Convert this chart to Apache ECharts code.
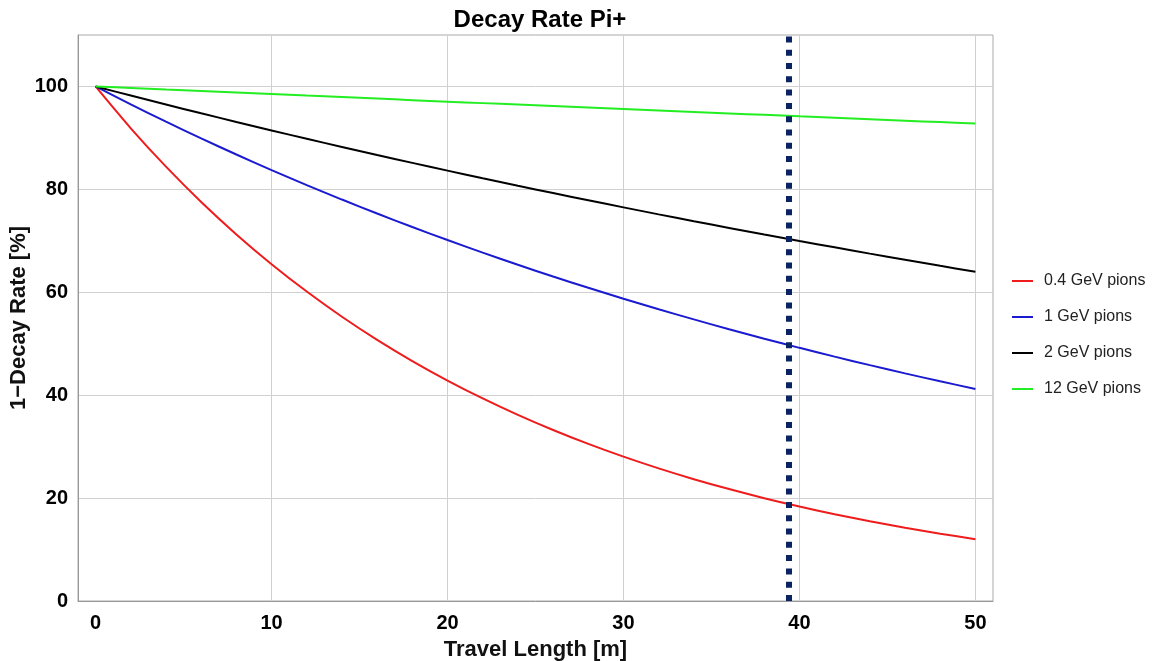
<!DOCTYPE html>
<html><head><meta charset="utf-8">
<script src="https://cdn.jsdelivr.net/npm/echarts@6/dist/echarts.min.js"></script>
<style>html,body{margin:0;padding:0;background:#fff}#c{width:1155px;height:661px}</style>
</head><body><div id="c"></div>
<script>
const travelLength = [0,2,4,6,8,10,12,14,16,18,20,22,24,26,28,30,32,34,36,38,40,42,44,46,48,50];
const pion04 = [100,91.87,84.41,77.55,71.25,65.46,60.14,55.25,50.76,46.64,42.85,39.37,36.17,33.23,30.53,28.05,25.77,23.67,21.75,19.98,18.36,16.87,15.50,14.24,13.08,12.02];
const pion1 = [100,96.52,93.15,89.91,86.78,83.75,80.83,78.02,75.30,72.68,70.15,67.70,65.34,63.07,60.87,58.75,56.70,54.73,52.82,50.98,49.20,47.49,45.84,44.24,42.70,41.21];
const pion2 = [100,98.23,96.49,94.78,93.10,91.45,89.83,88.24,86.68,85.15,83.64,82.16,80.71,79.28,77.88,76.50,75.14,73.81,72.51,71.22,69.96,68.73,67.51,66.32,65.14,63.99];
const pion12 = [100,99.70,99.40,99.11,98.81,98.52,98.22,97.93,97.64,97.34,97.05,96.76,96.48,96.19,95.90,95.61,95.33,95.04,94.76,94.48,94.19,93.91,93.63,93.35,93.07,92.80];
const seriesNames = ['0.4 GeV pions','1 GeV pions','2 GeV pions','12 GeV pions'];
const seriesColors = ['#ee1c1c','#1a1ad0','#000000','#22ee22'];
const xLabelTicks = [0,10,20,30,40,50];
const xGridTicks = [10,20,30,40,50];
const yLabelTicks = [0,20,40,60,80,100];
const yGridTicks = [20,40,60,80,100];
const markerX = 39.4;

const allData = [pion04, pion1, pion2, pion12];
const FONT = 'Liberation Sans, Arial, sans-serif';
const series = allData.map((vals, i) => ({
  name: seriesNames[i],
  type: 'line',
  data: travelLength.map((x, j) => [x, vals[j]]),
  showSymbol: false,
  symbol: 'none',
  smooth: 0.3,
  lineStyle: { color: seriesColors[i], width: 2 },
  itemStyle: { color: seriesColors[i] },
  z: 3
}));
series[0].markLine = {
  silent: true,
  symbol: ['none','none'],
  label: { show: false },
  lineStyle: { color: '#0a2462', width: 6, type: [6, 7.3], cap: 'butt' },
  data: [{ xAxis: markerX }],
  z: 5
};

const chart = echarts.init(document.getElementById('c'), null, { renderer: 'canvas' });
chart.setOption({
  backgroundColor: '#fff',
  animation: false,
  title: {
    text: 'Decay Rate Pi+',
    left: 535, top: 3, textAlign: 'center',
    textStyle: { fontFamily: FONT, fontSize: 24, fontWeight: 'bold', color: '#000' }
  },
  legend: {
    orient: 'vertical',
    left: 1007, top: 268,
    itemWidth: 21, itemHeight: 2,
    itemGap: 20,
    icon: 'rect',
    data: seriesNames,
    textStyle: { fontFamily: FONT, fontSize: 16, color: '#222', padding: [0,0,0,6] }
  },
  grid: {
    left: 78, right: 162, top: 35, bottom: 60,
    outerBoundsMode: 'none', containLabel: false,
    show: true, borderColor: '#aaa', borderWidth: 1, backgroundColor: '#fff'
  },
  xAxis: {
    type: 'value', min: -1, max: 51,
    name: 'Travel Length [m]', nameLocation: 'middle', nameGap: 38,
    nameMoveOverlap: false,
    nameTextStyle: { fontFamily: FONT, fontSize: 22, fontWeight: 'bold', color: '#111' },
    axisLine: { show: true, onZero: false, lineStyle: { color: '#999' } },
    axisTick: { show: false, customValues: xGridTicks },
    axisLabel: { customValues: xLabelTicks, fontFamily: FONT, fontSize: 20, fontWeight: 'bold', color: '#000', margin: 12 },
    splitLine: { show: true, lineStyle: { color: '#d0d0d0', width: 1 } }
  },
  yAxis: {
    type: 'value', min: 0, max: 110,
    name: '1\u2212Decay Rate [%]', nameLocation: 'middle', nameGap: 48, nameRotate: 90,
    nameMoveOverlap: false,
    nameTextStyle: { fontFamily: FONT, fontSize: 22, fontWeight: 'bold', color: '#111' },
    axisLine: { show: true, onZero: false, lineStyle: { color: '#999' } },
    axisTick: { show: false, customValues: yGridTicks },
    axisLabel: { customValues: yLabelTicks, fontFamily: FONT, fontSize: 20, fontWeight: 'bold', color: '#000', margin: 10 },
    splitLine: { show: true, lineStyle: { color: '#d0d0d0', width: 1 } }
  },
  series: series
});
</script>
</body></html>
